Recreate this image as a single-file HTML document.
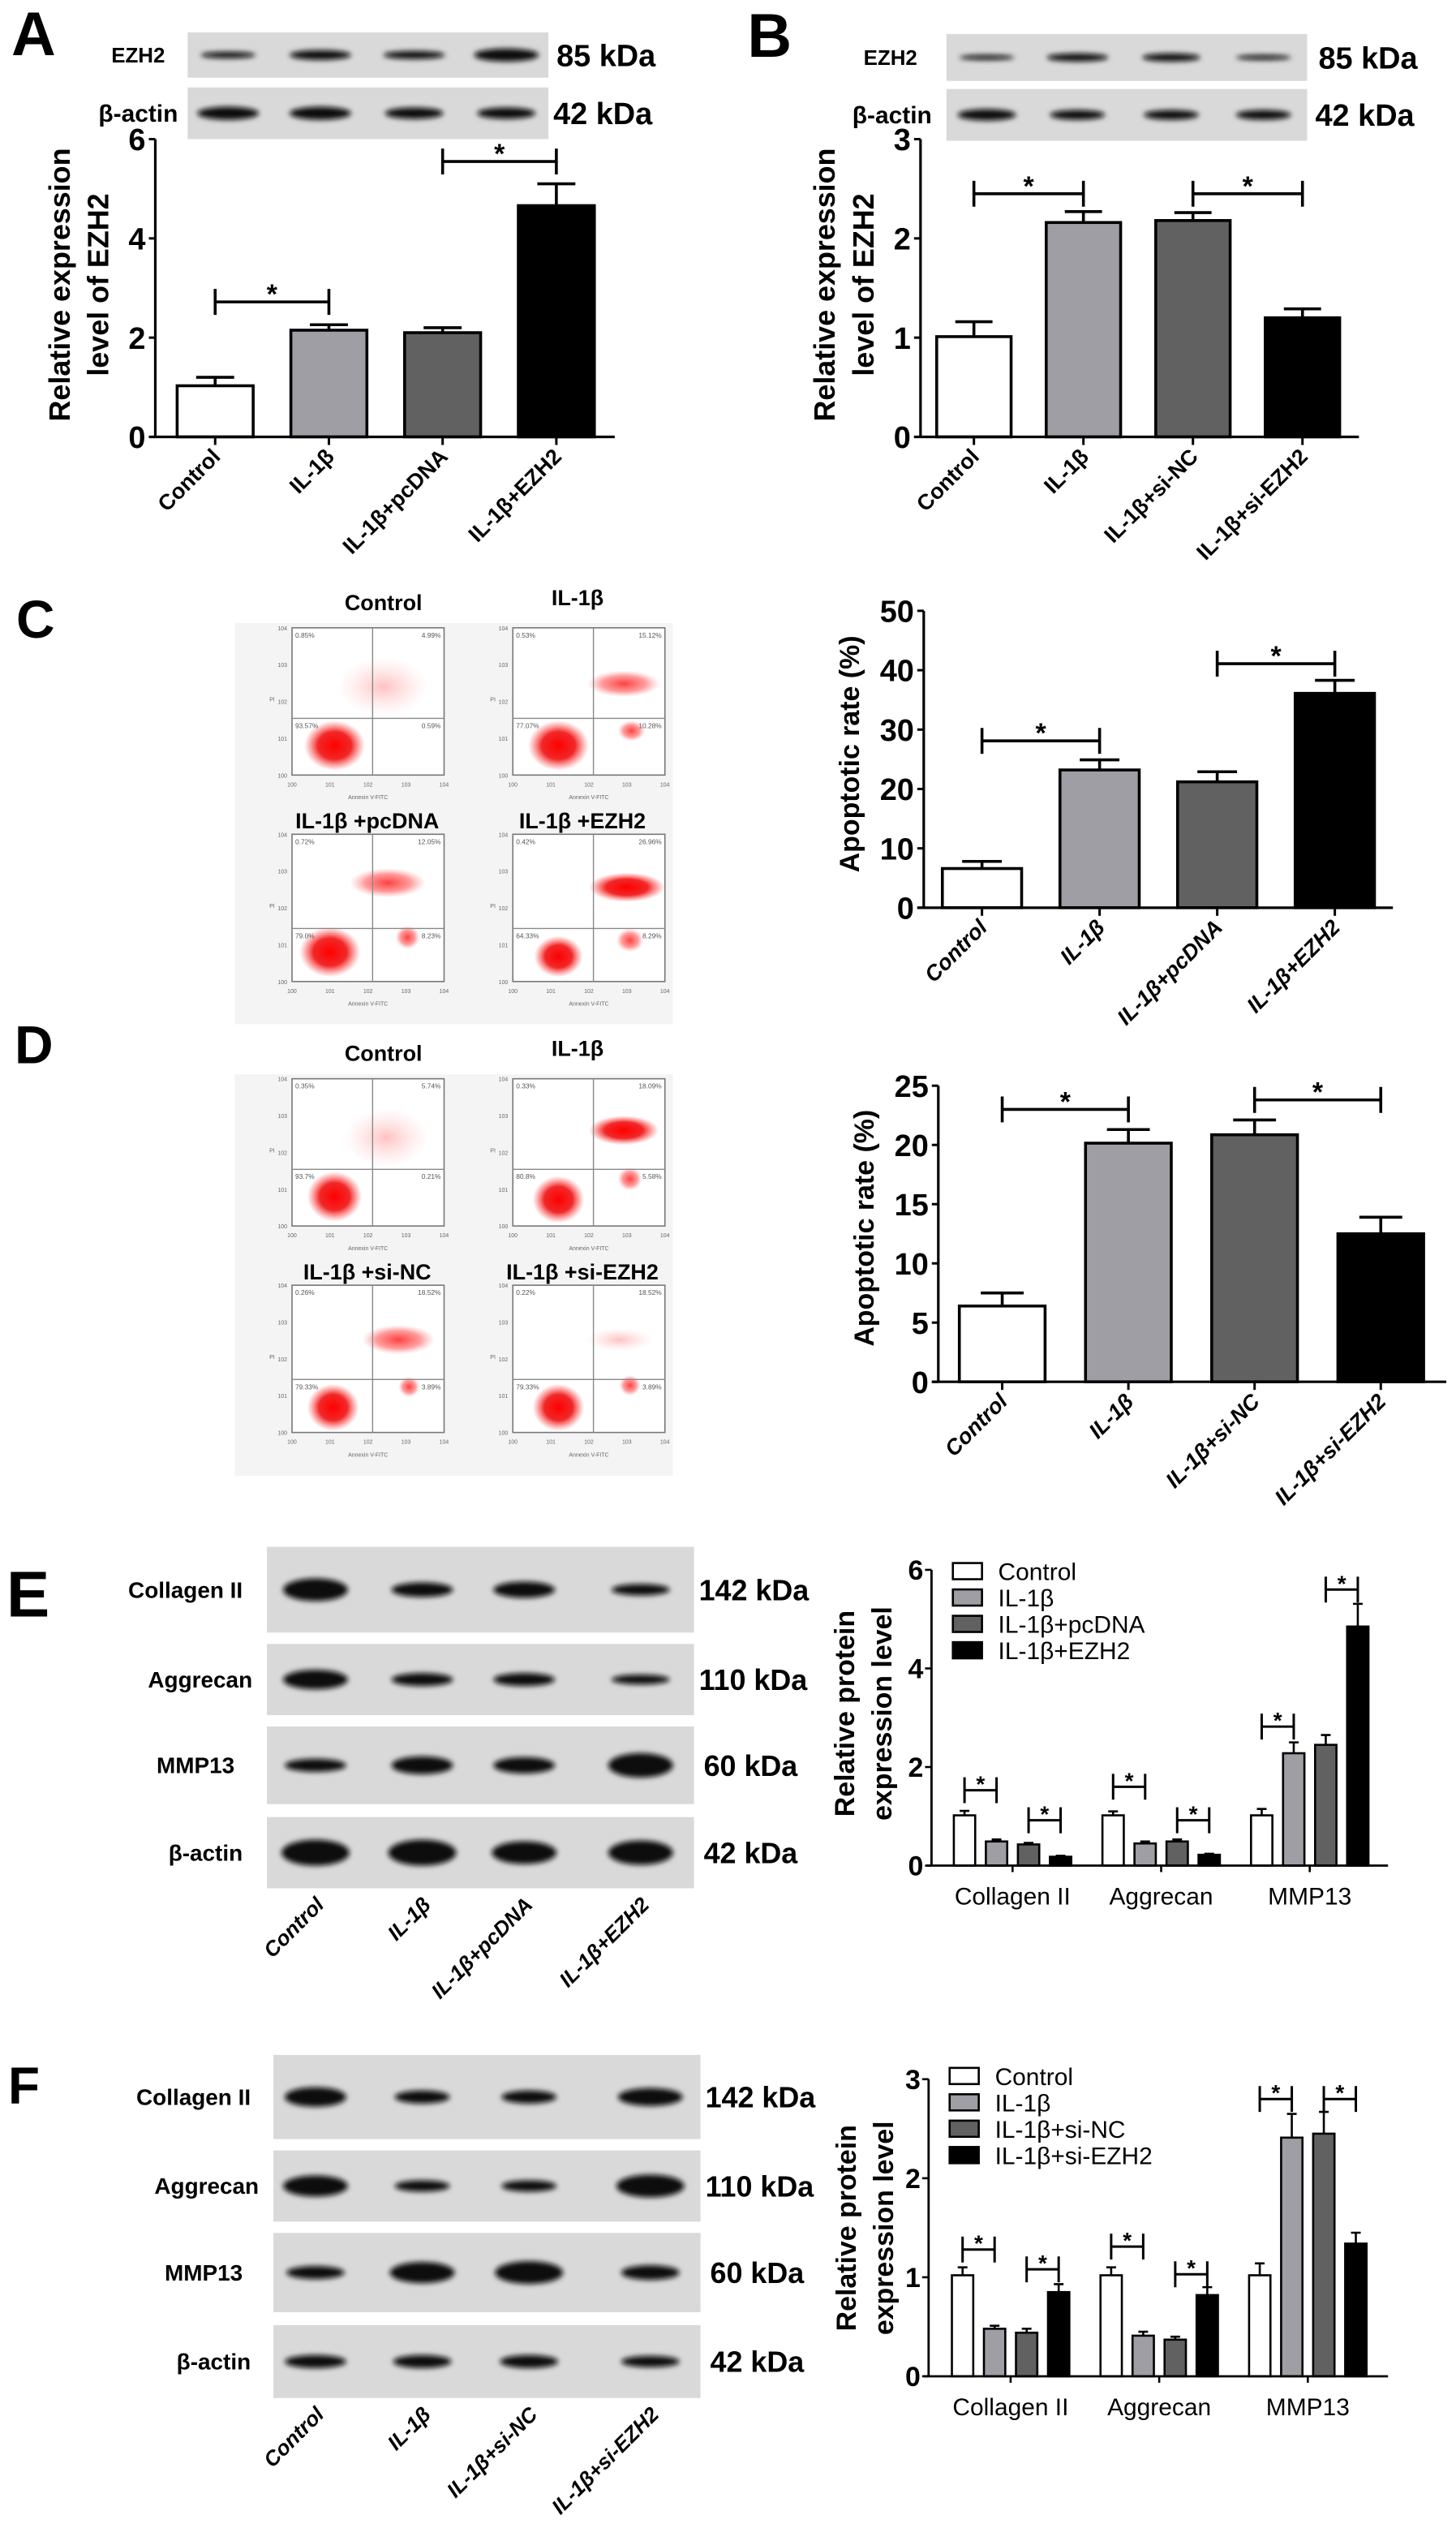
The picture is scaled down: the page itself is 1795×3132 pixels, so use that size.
<!DOCTYPE html>
<html><head><meta charset="utf-8"><title>EZH2 figure</title>
<style>
html,body{margin:0;padding:0;background:#fff;}
svg{display:block;}
text{font-family:"Liberation Sans",Arial,sans-serif;}
.nar{font-family:"Liberation Sans Narrow","Liberation Sans",Arial,sans-serif;}
</style></head>
<body>
<svg id="fig" xmlns="http://www.w3.org/2000/svg" width="1795" height="3132" viewBox="0 0 900 1570.4" preserveAspectRatio="none">
<defs>
<filter id="blur2" x="-30%" y="-100%" width="160%" height="300%"><feGaussianBlur stdDeviation="1.6"/></filter>
<filter id="blur1"><feGaussianBlur stdDeviation="1"/></filter>
<radialGradient id="gS"><stop offset="0" stop-color="#f00" stop-opacity="1"/><stop offset="0.55" stop-color="#f01010" stop-opacity="0.9"/><stop offset="1" stop-color="#ff4040" stop-opacity="0"/></radialGradient>
<radialGradient id="gM"><stop offset="0" stop-color="#f00" stop-opacity="0.75"/><stop offset="0.6" stop-color="#f22" stop-opacity="0.45"/><stop offset="1" stop-color="#f66" stop-opacity="0"/></radialGradient>
<radialGradient id="gF"><stop offset="0" stop-color="#f33" stop-opacity="0.3"/><stop offset="1" stop-color="#f88" stop-opacity="0"/></radialGradient>
</defs>
<text x="7" y="34" font-size="38" font-weight="bold">A</text>
<text x="462" y="35" font-size="38" font-weight="bold">B</text>
<text x="10" y="394" font-size="33" font-weight="bold">C</text>
<text x="9" y="657" font-size="33" font-weight="bold">D</text>
<text x="4" y="999" font-size="40" font-weight="bold">E</text>
<text x="5" y="1300" font-size="32" font-weight="bold">F</text>
</svg>
<script>
// ---------- chart data ----------
const catsA = ["Control","IL-1β","IL-1β+pcDNA","IL-1β+EZH2"];
const valsA = [1.03,2.15,2.1,4.66];
const errA = [0.17,0.11,0.1,0.44];
const ticksA = [0,2,4,6];
const sigA = [[0,1,2.72],[2,3,5.55]];

const catsB = ["Control","IL-1β","IL-1β+si-NC","IL-1β+si-EZH2"];
const valsB = [1.01,2.16,2.18,1.2];
const errB = [0.15,0.11,0.08,0.09];
const ticksB = [0,1,2,3];
const sigB = [[0,1,2.45],[2,3,2.45]];

const catsC = ["Control","IL-1β","IL-1β+pcDNA","IL-1β+EZH2"];
const valsC = [6.6,23.2,21.2,36.1];
const errC = [1.2,1.7,1.7,2.2];
const ticksC = [0,10,20,30,40,50];
const sigC = [[0,1,28.1],[2,3,41.1]];

const catsD = ["Control","IL-1β","IL-1β+si-NC","IL-1β+si-EZH2"];
const valsD = [6.4,20.15,20.86,12.5];
const errD = [1.1,1.15,1.25,1.4];
const ticksD = [0,5,10,15,20,25];
const sigD = [[0,1,23.0],[2,3,23.8]];

const groupsE = ["Collagen II","Aggrecan","MMP13"];
const seriesE = ["Control","IL-1β","IL-1β+pcDNA","IL-1β+EZH2"];
const eControl = [1.02,1.02,1.02];
const eIL = [0.49,0.45,2.28];
const ePc = [0.43,0.49,2.45];
const eEZH2 = [0.18,0.22,4.85];
const eErrControl = [0.09,0.08,0.13];
const eErrIL = [0.04,0.04,0.22];
const eErrPc = [0.03,0.04,0.2];
const eErrEZH2 = [0.02,0.02,0.46];
const ticksE = [0,2,4,6];
const sigE = [[0,0,1,1.53],[0,2,3,0.92],[1,0,1,1.6],[1,2,3,0.92],[2,0,1,2.82],[2,2,3,5.6]];

const groupsF = ["Collagen II","Aggrecan","MMP13"];
const seriesF = ["Control","IL-1β","IL-1β+si-NC","IL-1β+si-EZH2"];
const fControl = [1.02,1.02,1.02];
const fIL = [0.48,0.41,2.41];
const fNC = [0.44,0.37,2.45];
const fSi = [0.85,0.82,1.34];
const fErrControl = [0.08,0.08,0.12];
const fErrIL = [0.03,0.04,0.24];
const fErrNC = [0.04,0.03,0.22];
const fErrSi = [0.08,0.08,0.11];
const ticksF = [0,1,2,3];
const sigF = [[0,0,1,1.28],[0,2,3,1.08],[1,0,1,1.31],[1,2,3,1.03],[2,0,1,2.8],[2,2,3,2.8]];

const NS = "http://www.w3.org/2000/svg";
const svg = document.getElementById('fig');
const FILLS = ['#ffffff','#9e9ea4','#616161','#000000'];
function mk(tag, attrs, parent){
  const e = document.createElementNS(NS, tag);
  for (const k in attrs) e.setAttribute(k, attrs[k]);
  (parent||svg).appendChild(e);
  return e;
}

// ---------- simple bar chart ----------
function barChart(name, cats, vals, errs, ticks, sig, L){
  const g = mk('g', {});
  
  
  const ymax = ticks[ticks.length-1];
  const yS = v => L.y0 - (L.y0 - L.yTop) * v / ymax;
  const xC = i => L.c0 + i * L.pitch;
  for (let i = 0; i < vals.length; i++){
    const top = yS(vals[i]), et = yS(vals[i] + errs[i]);
    const cap = mk('line', {x1:xC(i)-L.bw*0.25, x2:xC(i)+L.bw*0.25, y1:et, y2:et, stroke:'#000','stroke-width':1.8}, g);
    
    
    const el = mk('line', {x1:xC(i), x2:xC(i), y1:et, y2:top, stroke:'#000','stroke-width':1.8}, g);
    
    
    const r = mk('rect', {x:xC(i)-L.bw/2, y:top, width:L.bw, height:L.y0-top, fill:FILLS[i], stroke:'#000','stroke-width':1.8}, g);
    
    
    const tk = mk('line', {x1:xC(i), x2:xC(i), y1:L.y0, y2:L.y0+5, stroke:'#000','stroke-width':1.5}, g);
    
    
    const lx = xC(i) + 4, ly = L.y0 + 13;
    const t = mk('text', {x:lx, y:ly, 'font-size':L.lf, 'font-weight':'bold', 'text-anchor':'end', transform:'rotate(-45 '+lx+' '+ly+')'}, g);
    if (L.italic) t.setAttribute('font-style','italic');
    t.textContent = cats[i];
    
    
  }
  const ya = mk('line', {x1:L.ax, x2:L.ax, y1:L.y0, y2:L.yTop, stroke:'#000','stroke-width':1.6}, g);
  
  
  const xa = mk('line', {x1:L.ax-4, x2:L.xEnd, y1:L.y0, y2:L.y0, stroke:'#000','stroke-width':1.6}, g);
  
  
  ticks.forEach((tv, k) => {
    const y = yS(tv);
    const tl = mk('line', {x1:L.ax-4, x2:L.ax, y1:y, y2:y, stroke:'#000','stroke-width':1.5}, g);
    
    
    const tt = mk('text', {x:L.ax-6, y:y+L.tf*0.36, 'font-size':L.tf, 'font-weight':'bold', 'text-anchor':'end', class:'nar'}, g);
    tt.textContent = tv;
    
    
  });
  sig.forEach((s, k) => {
    const y = yS(s[2]), x1 = xC(s[0]), x2 = xC(s[1]);
    const p = mk('path', {d:'M'+x1+' '+(y-8)+'V'+(y+8)+'M'+x1+' '+y+'H'+x2+'M'+x2+' '+(y-8)+'V'+(y+8), stroke:'#000','stroke-width':1.8, fill:'none'}, g);
    
    
    const st = mk('text', {x:(x1+x2)/2, y:y+1, 'font-size':17, 'font-weight':'bold', 'text-anchor':'middle'}, g);
    st.textContent = '*';
    
    
  });
  L.title.forEach((line, k) => {
    const tx = L.titleX[k];
    const t = mk('text', {x:tx, y:L.titleY, 'font-size':L.titleF, 'font-weight':'bold', 'text-anchor':'middle', transform:'rotate(-90 '+tx+' '+L.titleY+')'}, g);
    t.textContent = line;
    
    
  });
}

barChart('chart-a', catsA, valsA, errA, ticksA, sigA, {ax:96,y0:270,yTop:86,c0:133,pitch:70.3,bw:47,xEnd:380,tf:19,lf:13.5,italic:false,title:['Relative expression','level of EZH2'],titleX:[43,67],titleY:176,titleF:18});
barChart('chart-b', catsB, valsB, errB, ticksB, sigB, {ax:569,y0:270,yTop:86,c0:602,pitch:67.7,bw:46,xEnd:840,tf:19,lf:13.5,italic:false,title:['Relative expression','level of EZH2'],titleX:[516,540],titleY:176,titleF:18});
barChart('chart-c', catsC, valsC, errC, ticksC, sigC, {ax:571,y0:561,yTop:377.5,c0:607,pitch:72.7,bw:49,xEnd:861,tf:19,lf:13.5,italic:true,title:['Apoptotic rate (%)'],titleX:[531],titleY:466,titleF:17});
barChart('chart-d', catsD, valsD, errD, ticksD, sigD, {ax:580,y0:854,yTop:671,c0:619.5,pitch:78,bw:53,xEnd:894,tf:19,lf:13.5,italic:true,title:['Apoptotic rate (%)'],titleX:[540],titleY:759,titleF:17});

// ---------- grouped bar chart ----------
function groupChart(name, groups, series, vals, errs, ticks, sig, L){
  const g = mk('g', {});
  
  
  const ymax = ticks[ticks.length-1];
  const yS = v => L.y0 - (L.y0 - L.yTop) * v / ymax;
  const xL = (gi, si) => L.x0 + gi * L.gp + si * L.pitch;
  const xC = (gi, si) => xL(gi, si) + L.bw/2;
  for (let gi = 0; gi < groups.length; gi++){
    for (let si = 0; si < series.length; si++){
      const v = vals[si][gi], e = errs[si][gi];
      const top = yS(v), et = yS(v+e);
      const eb = mk('path', {d:'M'+(xC(gi,si)-3)+' '+et+'H'+(xC(gi,si)+3)+'M'+xC(gi,si)+' '+et+'V'+top, stroke:'#000','stroke-width':1.3, fill:'none'}, g);
      
      
      const r = mk('rect', {x:xL(gi,si), y:top, width:L.bw, height:L.y0-top, fill:FILLS[si], stroke:'#000','stroke-width':1.3}, g);
      
      
    }
    const gc = (xL(gi,0) + xL(gi,series.length-1) + L.bw) / 2;
    const tk = mk('line', {x1:gc, x2:gc, y1:L.y0, y2:L.y0+4, stroke:'#000','stroke-width':1.3}, g);
    
    
    const t = mk('text', {x:gc, y:L.y0+24, 'font-size':15, 'text-anchor':'middle', class:'nar'}, g);
    t.textContent = groups[gi];
    
    
  }
  const ya = mk('line', {x1:L.ax, x2:L.ax, y1:L.y0, y2:L.yTop, stroke:'#000','stroke-width':1.4}, g);
  
  
  const xa = mk('line', {x1:L.ax-3, x2:L.xEnd, y1:L.y0, y2:L.y0, stroke:'#000','stroke-width':1.4}, g);
  
  
  ticks.forEach((tv, k) => {
    const y = yS(tv);
    const tl = mk('line', {x1:L.ax-4, x2:L.ax, y1:y, y2:y, stroke:'#000','stroke-width':1.3}, g);
    
    
    const tt = mk('text', {x:L.ax-5, y:y+6, 'font-size':17, 'font-weight':'bold', 'text-anchor':'end', class:'nar'}, g);
    tt.textContent = tv;
    
    
  });
  sig.forEach((s, k) => {
    const y = yS(s[3]), x1 = xC(s[0], s[1]), x2 = xC(s[0], s[2]);
    const p = mk('path', {d:'M'+x1+' '+(y-8)+'V'+(y+8)+'M'+x1+' '+y+'H'+x2+'M'+x2+' '+(y-8)+'V'+(y+8), stroke:'#000','stroke-width':1.5, fill:'none'}, g);
    
    
    const st = mk('text', {x:(x1+x2)/2, y:y+1, 'font-size':14, 'font-weight':'bold', 'text-anchor':'middle'}, g);
    st.textContent = '*';
    
    
  });
  series.forEach((s, k) => {
    const y = L.legY + k * 16.3;
    const b = mk('rect', {x:L.legX, y:y-5, width:18, height:10, fill:FILLS[k], stroke:'#000','stroke-width':1.3}, g);
    
    
    const t = mk('text', {x:L.legX+28, y:y+5.5, 'font-size':15, class:'nar'}, g);
    t.textContent = s;
    
    
  });
  ['Relative protein','expression level'].forEach((line, k) => {
    const tx = L.titleX[k];
    const t = mk('text', {x:tx, y:L.titleY, 'font-size':17, 'font-weight':'bold', 'text-anchor':'middle', transform:'rotate(-90 '+tx+' '+L.titleY+')'}, g);
    t.textContent = line;
    
    
  });
}
groupChart('chart-e', groupsE, seriesE, [eControl,eIL,ePc,eEZH2], [eErrControl,eErrIL,eErrPc,eErrEZH2], ticksE, sigE,
  {ax:575.8,y0:1153,yTop:970.2,x0:589.6,pitch:19.8,bw:13.2,gp:91.85,xEnd:858,legX:589,legY:971,titleX:[528,551],titleY:1059});
groupChart('chart-f', groupsF, seriesF, [fControl,fIL,fNC,fSi], [fErrControl,fErrIL,fErrNC,fErrSi], ticksF, sigF,
  {ax:574,y0:1468.6,yTop:1285,x0:588.4,pitch:19.8,bw:13.2,gp:91.85,xEnd:858,legX:587,legY:1283,titleX:[529,552],titleY:1377});

// ---------- western blots ----------
function blot(name, x, y, w, h, lanes, widths, heights, label, labelRight, kda, kdaX, kf, lf){
  const g = mk('g', {});
  
  
  const bg = mk('rect', {x:x, y:y, width:w, height:h, fill:'#d9d9d9'}, g);
  
  
  const cy = y + h/2;
  lanes.forEach((lx, i) => {
    const b = mk('ellipse', {cx:lx, cy:cy, rx:widths[i]/2, ry:heights[i]/2, fill:'#0a0a0a', filter:'url(#blur2)'}, g);
    
    
  });
  const t = mk('text', {x:labelRight, y:cy+lf*0.35, 'font-size':lf, 'font-weight':'bold', 'text-anchor':'end', class:'nar'}, g);
  t.textContent = label;
  
  
  const k = mk('text', {x:kdaX, y:cy+kf*0.36, 'font-size':kf, 'font-weight':'bold', class:'nar'}, g);
  k.textContent = kda;
  
  
}
const lanesA = [141,198,256,313], lanesB = [610,666,724,781];
blot('blot-a-ezh2',116,20,223,28,lanesA,[34,38,38,40],[4,6,5,8],'EZH2',102,'85 kDa',344,19,13);
blot('blot-a-actin',116,54,223,32,lanesA,[38,38,36,36],[8,8,7,7],'β-actin',110,'42 kDa',342,19,15);
blot('blot-b-ezh2',585,21,223,29,lanesB,[34,38,36,34],[3,5,5,3],'EZH2',567,'85 kDa',815,19,13);
blot('blot-b-actin',585,55,223,32,lanesB,[36,34,34,34],[7,6,6,6],'β-actin',576,'42 kDa',813,19,15);
const lanesE = [195,261,324,396], lanesF = [195,261,327,402];
blot('blot-e-collagen',165,956,264,53,lanesE,[40,38,38,36],[14,9,10,7],'Collagen II',150,'142 kDa',432,18,14);
blot('blot-e-aggrecan',165,1016,264,44,lanesE,[40,38,38,36],[12,8,8,6],'Aggrecan',156,'110 kDa',432,18,14);
blot('blot-e-mmp13',165,1067,264,48,lanesE,[38,38,38,40],[8,11,10,15],'MMP13',145,'60 kDa',435,18,14);
blot('blot-e-actin',165,1123,264,44,lanesE,[42,42,40,40],[16,16,14,15],'β-actin',150,'42 kDa',435,18,14);
blot('blot-f-collagen',169,1270,264,52,lanesF,[38,34,34,40],[12,8,8,11],'Collagen II',155,'142 kDa',436,18,14);
blot('blot-f-aggrecan',169,1329,264,44,lanesF,[40,34,34,42],[13,7,7,14],'Aggrecan',160,'110 kDa',436,18,14);
blot('blot-f-mmp13',169,1380,264,49,lanesF,[36,40,42,36],[8,13,14,9],'MMP13',150,'60 kDa',439,18,14);
blot('blot-f-actin',169,1437,264,45,lanesF,[38,36,36,36],[8,8,8,7],'β-actin',155,'42 kDa',439,18,14);

function laneLabels(name, cats, lanes, y){
  cats.forEach((c, i) => {
    const lx = lanes[i] + 6;
    const t = mk('text', {x:lx, y:y, 'font-size':13, 'font-weight':'bold', 'font-style':'italic', 'text-anchor':'end', transform:'rotate(-45 '+lx+' '+y+')'});
    t.textContent = c;
    
    
  });
}
laneLabels('lane-label-e', seriesE, lanesE, 1178);
laneLabels('lane-label-f', seriesF, lanesF, 1493);

// ---------- flow cytometry plots ----------
function flowArea(name, x, y, w, h){
  const r = mk('rect', {x:x, y:y, width:w, height:h, fill:'#f4f4f4'});
  
  
}
flowArea('flow-background-c', 145, 385, 271, 248);
flowArea('flow-background-d', 145, 664, 271, 248);
function flow(name, x, y, title, tx, ty, blobs, pcts, hq){
  const W = 94, H = 91;
  const g = mk('g', {});
  
  
  const bg = mk('rect', {x:x, y:y, width:W, height:H, fill:'#fff'}, g);
  
  
  blobs.forEach((b, i) => {
    const e = mk('ellipse', {cx:x+b[0]*W, cy:y+b[1]*H, rx:b[2]*W, ry:b[3]*H, fill:'url(#'+b[4]+')'}, g);
    
    
  });
  const fr = mk('rect', {x:x, y:y, width:W, height:H, fill:'none', stroke:'#777', 'stroke-width':0.8}, g);
  
  
  const q = mk('path', {d:'M'+(x+0.53*W)+' '+y+'V'+(y+H)+'M'+x+' '+(y+hq*H)+'H'+(x+W), stroke:'#888', 'stroke-width':0.7}, g);
  
  
  const pos = [[x+2,y+6,'start'],[x+W-2,y+6,'end'],[x+2,y+hq*H+6,'start'],[x+W-2,y+hq*H+6,'end']];
  pcts.forEach((p, i) => {
    const t = mk('text', {x:pos[i][0], y:pos[i][1], 'font-size':4.2, fill:'#555', 'text-anchor':pos[i][2]}, g);
    t.textContent = p;
    
    
  });
  for (let k = 0; k < 5; k++){
    const ty2 = y + H - k * H/4;
    const t = mk('text', {x:x-3, y:ty2+1.5, 'font-size':3.5, fill:'#666', 'text-anchor':'end'}, g);
    t.textContent = '10' + k;
    
    
    const t2 = mk('text', {x:x + k*W/4, y:y+H+7, 'font-size':3.5, fill:'#666', 'text-anchor':'middle'}, g);
    t2.textContent = '10' + k;
    
    
  }
  const ax = mk('text', {x:x+W/2, y:y+H+15, 'font-size':3.5, fill:'#666', 'text-anchor':'middle'}, g);
  ax.textContent = 'Annexin V-FITC';
  
  
  const ay = mk('text', {x:x-14, y:y+H/2, 'font-size':3.5, fill:'#666'}, g);
  ay.textContent = 'PI';
  
  
  const tt = mk('text', {x:tx, y:ty, 'font-size':13.5, 'font-weight':'bold', 'text-anchor':'middle'}, g);
  tt.textContent = title;
  
  
}
const C1x = 180.5, C2x = 317, R1 = 388, R2 = 515.6, DY = 278.7;
flow('flow-c-control', C1x, R1, 'Control', 237, 377, [[0.6,0.4,0.3,0.2,'gF'],[0.28,0.8,0.2,0.17,'gS']], ['0.85%','4.99%','93.57%','0.59%'], 0.615);
flow('flow-c-il1b', C2x, R1, 'IL-1β', 357, 374, [[0.73,0.38,0.24,0.09,'gM'],[0.78,0.7,0.09,0.07,'gM'],[0.3,0.8,0.2,0.17,'gS']], ['0.53%','15.12%','77.07%','10.28%'], 0.615);
flow('flow-c-pcdna', C1x, R2, 'IL-1β +pcDNA', 227, 512, [[0.63,0.33,0.25,0.1,'gM'],[0.76,0.7,0.08,0.08,'gM'],[0.25,0.8,0.2,0.17,'gS']], ['0.72%','12.05%','79.0%','8.23%'], 0.64);
flow('flow-c-ezh2', C2x, R2, 'IL-1β +EZH2', 360, 512, [[0.75,0.36,0.25,0.1,'gS'],[0.77,0.72,0.09,0.08,'gM'],[0.3,0.83,0.16,0.14,'gS']], ['0.42%','26.96%','64.33%','8.29%'], 0.64);
flow('flow-d-control', C1x, R1+DY, 'Control', 237, 377+DY, [[0.62,0.4,0.28,0.2,'gF'],[0.28,0.8,0.18,0.17,'gS']], ['0.35%','5.74%','93.7%','0.21%'], 0.615);
flow('flow-d-il1b', C2x, R1+DY, 'IL-1β', 357, 374+DY, [[0.73,0.35,0.23,0.1,'gS'],[0.77,0.68,0.08,0.08,'gM'],[0.3,0.82,0.17,0.16,'gS']], ['0.33%','18.09%','80.8%','5.58%'], 0.615);
flow('flow-d-sinc', C1x, R2+DY, 'IL-1β +si-NC', 227, 512+DY, [[0.7,0.37,0.24,0.1,'gM'],[0.77,0.69,0.07,0.07,'gM'],[0.27,0.83,0.17,0.16,'gS']], ['0.26%','18.52%','79.33%','3.89%'], 0.64);
flow('flow-d-siezh2', C2x, R2+DY, 'IL-1β +si-EZH2', 360, 512+DY, [[0.7,0.37,0.22,0.08,'gF'],[0.77,0.68,0.07,0.07,'gM'],[0.3,0.83,0.17,0.16,'gS']], ['0.22%','18.52%','79.33%','3.89%'], 0.64);
</script>
</body></html>
